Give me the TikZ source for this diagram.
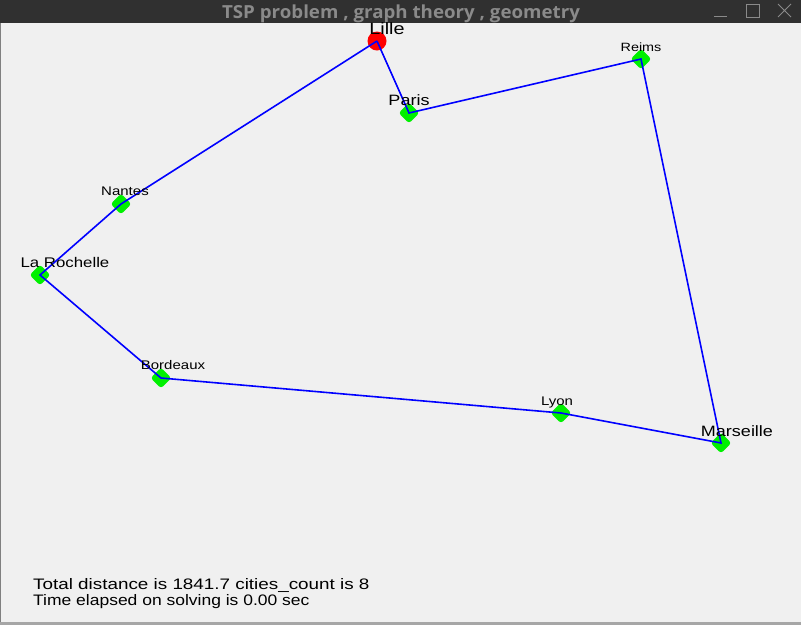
\documentclass[tikz,border=0pt]{standalone}
\usepackage{fontspec}
\setmainfont{Liberation Sans}
\newfontfamily\labelfont[FakeStretch=1.2]{Liberation Sans}
\newfontfamily\infofont[FakeStretch=1.24]{Liberation Sans}
\newfontfamily\timefont[FakeStretch=1.15]{Liberation Sans}
\newfontfamily\titlefont[FakeStretch=1.04]{Open Sans}
\usetikzlibrary{shapes.geometric}
\definecolor{winbg}{HTML}{F0F0F0}
\definecolor{barbg}{HTML}{303030}
\definecolor{bargrey}{HTML}{8A8A8A}
\definecolor{citygreen}{HTML}{00F000}
\tikzset{
  city/.style={diamond, fill=citygreen, rounded corners=3pt, minimum size=21pt, inner sep=0pt},
  startcity/.style={circle, fill=red, minimum size=19pt, inner sep=0pt},
  tour/.style={draw=blue, line width=1.6pt},
  citylabel/.style={anchor=base, inner sep=0pt},
  info/.style={anchor=base west, inner sep=0pt, font=\infofont\fontsize{15.2}{16}\selectfont},
}
\begin{document}
\begin{tikzpicture}[x=1pt,y=-1pt]
            \useasboundingbox (0,0) rectangle (801,625);
            %window and title bar
            \fill[winbg] (0,0) rectangle (801,625);
            \fill[barbg] (0,0) rectangle (801,23);
            \fill[gray!70] (0,622) rectangle (801,625);
            \draw[gray] (0.5,23) -- (0.5,622);
            \node[anchor=base, inner sep=0pt, text=bargrey, font=\titlefont\bfseries\fontsize{18}{20}\selectfont] (title) at (401,18) {TSP problem , graph theory , geometry};
            \draw[bargrey, line width=1pt] (714,16.5) -- (727,16.5);
            \draw[bargrey, line width=1pt] (746,4) rectangle (759,17);
            \draw[bargrey, line width=1pt] (778,4) -- (791,17) (778,17) -- (791,4);
            %cities
            \foreach \name/\x/\y in {paris/409/113, reims/641/59, marseille/721/443, lyon/561/413, bordeaux/161/378, rochelle/40/275, nantes/121/204}
            \node[city] (\name) at (\x,\y) {};
            \node[startcity] (lille) at (377,41) {};
            %tour
            \draw[tour] (lille.center) -- (paris.center) -- (reims.center) -- (marseille.center) -- (lyon.center) -- (bordeaux.center) -- (rochelle.center) -- (nantes.center) -- (lille.center);
            %city names
            \foreach \name/\txt/\x/\y/\fs in {lille/Lille/387/34/16.5, paris/Paris/409/105/15, reims/Reims/641/51/12, nantes/Nantes/125/195/12.5, rochelle/La Rochelle/65/267/14, bordeaux/Bordeaux/173/369/12.5, lyon/Lyon/557/405/12.5, marseille/Marseille/737/436/15}
            \node[citylabel, font=\labelfont\fontsize{\fs}{\fs}\selectfont] (\name-name) at (\x,\y) {\txt};
            %result text
            \node[info] (dist) at (33,589) {Total distance is 1841.7 cities\_count is 8};
            \node[info, font=\timefont\fontsize{15.2}{16}\selectfont] (time) at (33,605) {Time elapsed on solving is 0.00 sec};
\end{tikzpicture}
\end{document}
